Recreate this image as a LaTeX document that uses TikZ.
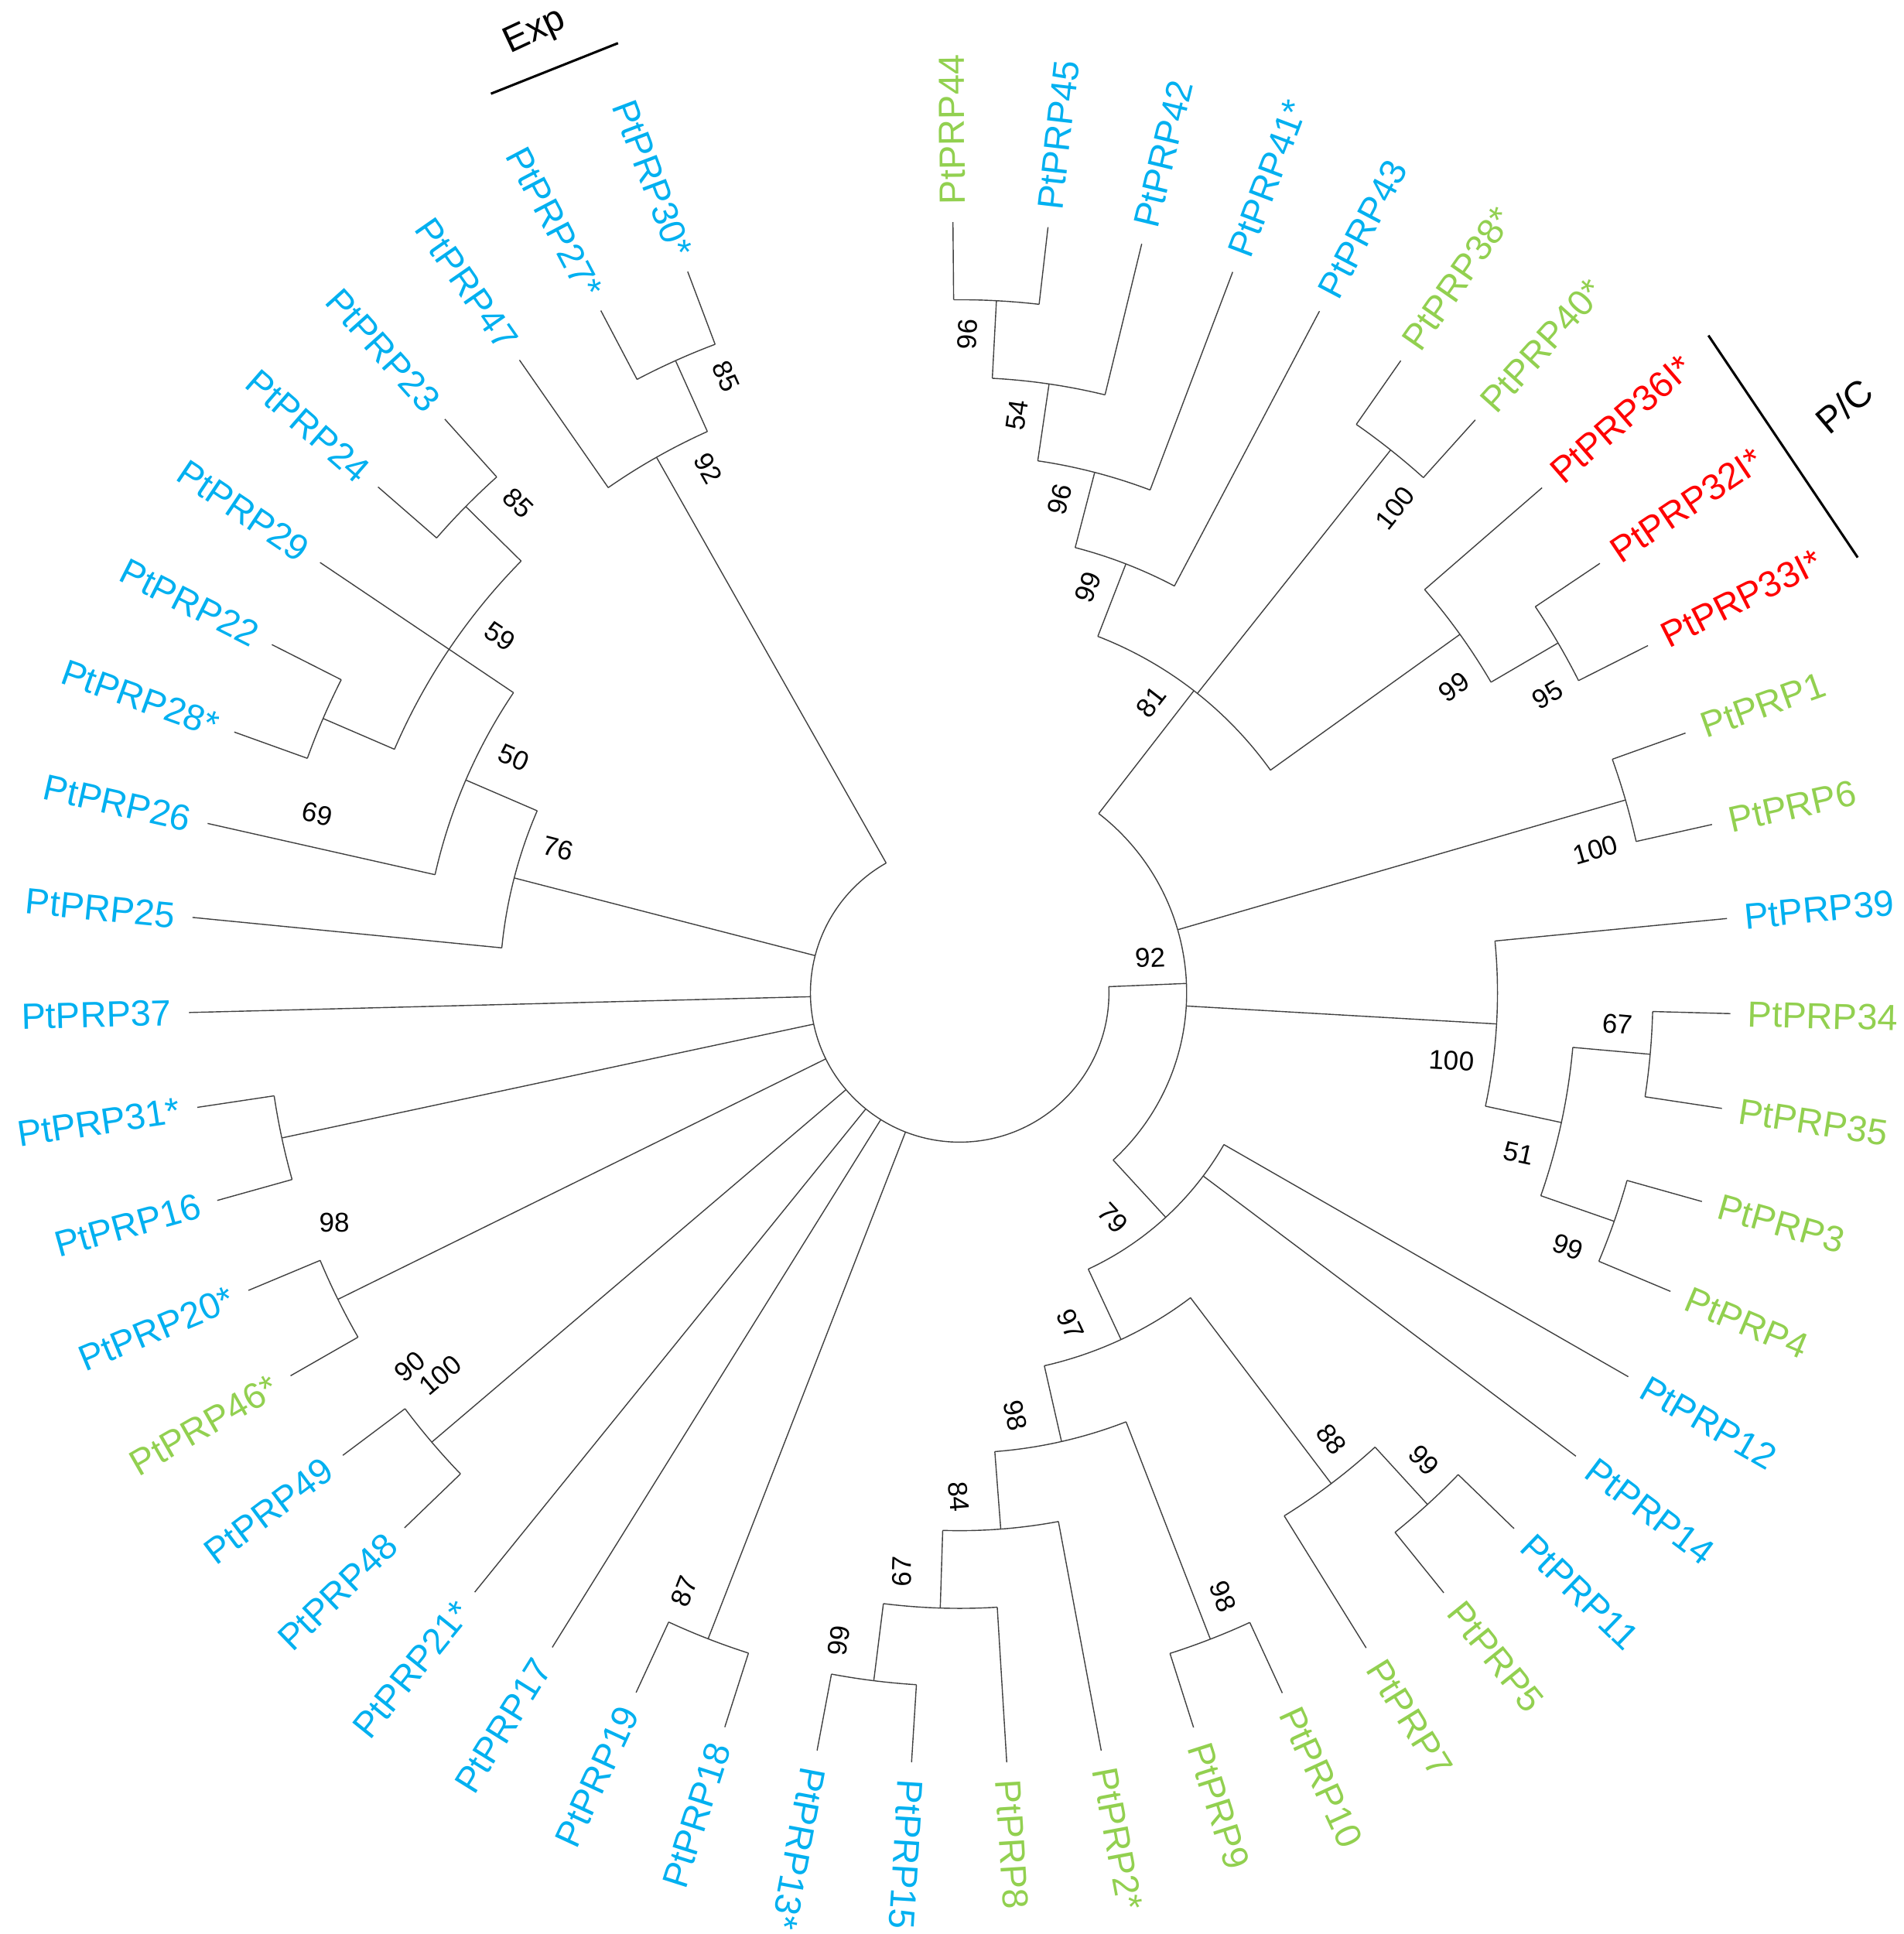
\documentclass[tikz,border=0pt]{standalone}
\usepackage{fontspec}
\setmainfont{Liberation Sans}
\usetikzlibrary{calc}

\definecolor{prpblue}{RGB}{0,176,240}
\definecolor{prpgreen}{RGB}{146,208,80}
\definecolor{prpred}{RGB}{255,0,0}

\tikzset{
  branch/.style={draw=black!75,line width=.5pt},
  taxon/.style={inner sep=0pt,font=\fontsize{16.8}{20}\selectfont},
  boot/.style={inner sep=0pt,font=\fontsize{12.5}{14}\selectfont},
  grouplabel/.style={inner sep=0pt,font=\fontsize{17}{20}\selectfont},
  groupbar/.style={draw=black,line width=1.1pt}
}

\begin{document}
\begin{tikzpicture}[x=.02cm,y=.02cm]

      \useasboundingbox (-778,-763) rectangle (765,805);

      \foreach \nm/\ta/\hh/\ph/\fa/\la in {
          n96a/86.96/1/2/90.5/83.42, n54/81.65/2/3/86.96/76.34,
          n96b/75.46/3/4/81.65/69.26, n99a/68.82/4/5/75.46/62.18,
          n100a/51.56/1/5/55.10/48.02, n95/30.32/1/2/33.86/26.78,
          n99b/35.63/2/5/40.94/30.32, n81/52.225/5/7/68.82/35.63,
          n100b/16.16/1/7/19.70/12.62, n67a/-5.08/1/2/-1.54/-8.62,
          n99c/-19.24/1/2/-15.70/-22.78, n51/-12.16/2/3/-5.08/-19.24,
          n100c/-3.31/3/7/5.54/-12.16, n99d/-47.56/1/2/-44.02/-51.10,
          n88/-52.87/2/5/-47.56/-58.18, n98a/-68.80/1/4/-65.26/-72.34,
          n99e/-97.12/1/2/-93.58/-100.66, n67b/-91.81/2/3/-86.50/-97.12,
          n84/-85.62/3/4/-79.42/-91.81, n98b/-77.21/4/5/-68.80/-85.62,
          n97/-65.04/5/6/-52.87/-77.21, n79/-47.45/6/7/-29.86/-65.04,
          n92a/2.39/7/8/52.225/-47.45, n87/-111.28/1/8/-107.74/-114.82,
          n100d/-139.60/1/8/-136.06/-143.14, n98c/-153.76/1/8/-150.22/-157.30,
          nx/-167.92/1/8/-164.38/-171.46, ny/-203.32/1/2/-199.78/-206.86,
          n85a/-224.56/1/2/-221.02/-228.10, n59/-213.94/2/3/-203.32/-224.56,
          n50/-203.32/3/4/-192.70/-213.94, n76/-194.47/4/8/-185.62/-203.32,
          n85b/-245.80/1/2/-242.26/-249.34, n92b/-240.49/2/8/-235.18/-245.80,
          root/-119.05/8/8/2.39/-240.49}{
        \pgfmathsetmacro\rr{625-63*\hh}
        \pgfmathsetmacro\pr{625-63*\ph}
        \coordinate (\nm) at (\ta:\rr);
        \coordinate (\nm-up) at (\ta:\pr);
        \path[branch] (\nm-up) -- (\nm);
        \path[branch] (\fa:\rr) arc[start angle=\fa,end angle=\la,radius=\rr];
      }

      \foreach \tx/\col/\hh [count=\n] in {
          PtPRP44/prpgreen/1, PtPRP45/prpblue/1, PtPRP42/prpblue/2,
          PtPRP41*/prpblue/3, PtPRP43/prpblue/4, PtPRP38*/prpgreen/1,
          PtPRP40*/prpgreen/1, PtPRP36I*/prpred/2, PtPRP32I*/prpred/1,
          PtPRP33I*/prpred/1, PtPRP1/prpgreen/1, PtPRP6/prpgreen/1,
          PtPRP39/prpblue/3, PtPRP34/prpgreen/1, PtPRP35/prpgreen/1,
          PtPRP3/prpgreen/1, PtPRP4/prpgreen/1, PtPRP12/prpblue/6,
          PtPRP14/prpblue/6, PtPRP11/prpblue/1, PtPRP5/prpgreen/1,
          PtPRP7/prpgreen/2, PtPRP10/prpgreen/1, PtPRP9/prpgreen/1,
          PtPRP2*/prpgreen/3, PtPRP8/prpgreen/2, PtPRP15/prpblue/1,
          PtPRP13*/prpblue/1, PtPRP18/prpblue/1, PtPRP19/prpblue/1,
          PtPRP17/prpblue/8, PtPRP21*/prpblue/8, PtPRP48/prpblue/1,
          PtPRP49/prpblue/1, PtPRP46*/prpgreen/1, PtPRP20*/prpblue/1,
          PtPRP16/prpblue/1, PtPRP31*/prpblue/1, PtPRP37/prpblue/8,
          PtPRP25/prpblue/4, PtPRP26/prpblue/3, PtPRP28*/prpblue/1,
          PtPRP22/prpblue/1, PtPRP29/prpblue/2, PtPRP24/prpblue/1,
          PtPRP23/prpblue/1, PtPRP47/prpblue/2, PtPRP27*/prpblue/1,
          PtPRP30*/prpblue/1}{
        \pgfmathsetmacro\ta{90.5-(\n-1)*7.08}
        \pgfmathsetmacro\rr{625-63*\hh}
        \coordinate (base\n) at (\ta:\rr);
        \coordinate (tip\n) at (\ta:625);
        \path[branch] (base\n) -- (tip\n);
        \ifnum\n<29
          \node[taxon,text=\col,anchor=west,rotate=\ta] (taxon\n) at (\ta:639) {\tx};
        \else
          \node[taxon,text=\col,anchor=east,rotate=\ta+180] (taxon\n) at (\ta:639) {\tx};
        \fi
      }

      \foreach \bv/\ta/\hh/\sd [count=\k] in {
          96/86.96/1/1, 54/81.65/2/1, 96/75.46/3/1, 99/68.82/4/1,
          81/52.225/5/1, 100/51.56/1/-1, 99/35.63/2/-1, 95/30.32/1/-1,
          100/16.16/1/-1, 92/2.39/7/1, 100/-3.31/3/-1, 67/-5.08/1/1,
          51/-12.16/2/-1, 99/-19.24/1/-1, 79/-47.45/6/-1, 97/-65.04/5/-1,
          98/-77.21/4/-1, 84/-85.62/3/-1, 98/-68.80/1/1, 88/-52.87/2/1,
          99/-47.56/1/1, 67/-91.81/2/-1, 99/-97.12/1/-1, 87/-111.28/1/-1,
          76/-194.47/4/-1, 50/-203.32/3/-1, 59/-213.94/2/-1, 85/-224.56/1/-1,
          92/-240.49/2/-1, 85/-245.80/1/-1}{
        \pgfmathsetmacro\rr{625-63*\hh-16}
        \pgfmathsetmacro\pa{\ta+90*\sd}
        \pgfmathsetmacro\pd{27-5*\sd}
        \ifdim\ta pt<-90pt
          \node[boot,anchor=west,rotate=\ta+180] (boot\k) at ($(\ta:\rr)+(\pa:\pd)$) {\bv};
        \else
          \node[boot,anchor=east,rotate=\ta] (boot\k) at ($(\ta:\rr)+(\pa:\pd)$) {\bv};
        \fi
      }

      \node[boot] (boot98c) at (-507,-186) {98};
      \node[boot,rotate=40] (boot90) at (-446,-303) {90};
      \node[boot,rotate=40] (boot100d) at (-421,-310) {100};
      \node[boot,rotate=-12.7] (boot69) at (-521,145) {69};

      \coordinate (expA) at (-380,729);
      \coordinate (expB) at (-277,770);
      \path[groupbar] (expA) -- (expB);
      \node[grouplabel,rotate=25] (exp) at (-344,779) {Exp};

      \coordinate (pcA) at (607,533);
      \coordinate (pcB) at (728,353);
      \path[groupbar] (pcA) -- (pcB);
      \node[grouplabel,rotate=40] (pc) at (717,476) {P/C};

    \end{tikzpicture}
\end{document}
